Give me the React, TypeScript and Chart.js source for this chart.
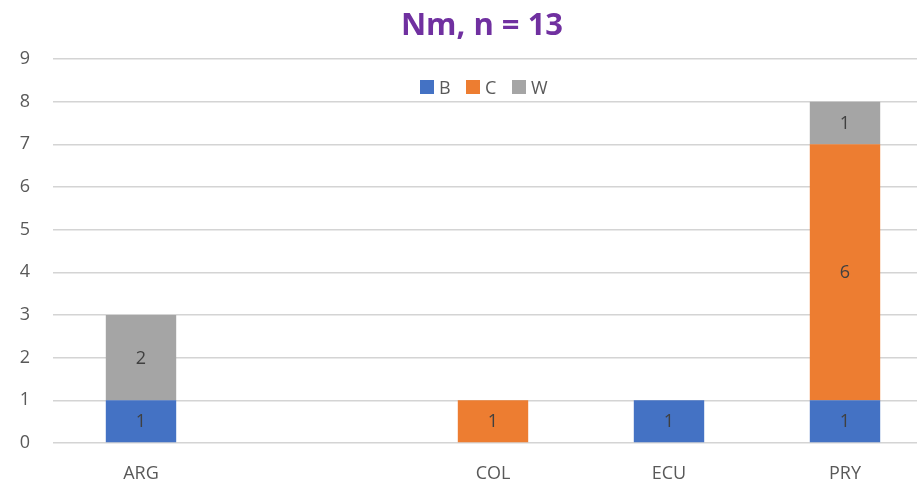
import React, { useEffect, useRef } from "react";
import { Chart, registerables } from "chart.js";

Chart.register(...registerables);

const categories = ["ARG", "", "COL", "ECU", "PRY"];
const seriesB = [1, null, null, 1, 1];
const seriesC = [null, null, 1, null, 6];
const seriesW = [2, null, null, null, 1];
const yTicks = [0, 1, 2, 3, 4, 5, 6, 7, 8, 9];
const titleText = "Nm, n = 13";

const FONT = "'Open Sans', 'Noto Sans', sans-serif";
const TEXT = "#595959";

const overlayPlugin = {
  id: "overlay",
  afterDatasetsDraw(chart: any) {
    const ctx = chart.ctx;
    ctx.save();
    // data labels
    ctx.font = `18px ${FONT}`;
    ctx.fillStyle = "#404040";
    ctx.textAlign = "center";
    ctx.textBaseline = "middle";
    chart.data.datasets.forEach((ds: any, di: number) => {
      const meta = chart.getDatasetMeta(di);
      meta.data.forEach((el: any, i: number) => {
        const v = ds.data[i];
        if (v == null || v === 0) return;
        const p = el.getProps(["x", "y", "base"], true);
        ctx.fillText(String(v), p.x, (p.y + p.base) / 2 + 1);
      });
    });
    // title
    ctx.font = `bold 31px ${FONT}`;
    ctx.fillStyle = "#7030A0";
    ctx.textAlign = "center";
    ctx.textBaseline = "alphabetic";
    ctx.fillText(titleText, 482, 35);
    // legend
    const xs = [420, 466, 512];
    ctx.font = `18px ${FONT}`;
    ctx.textAlign = "left";
    chart.data.datasets.forEach((ds: any, di: number) => {
      ctx.fillStyle = ds.backgroundColor;
      ctx.fillRect(xs[di], 80, 14, 14);
      ctx.fillStyle = TEXT;
      ctx.fillText(ds.label, xs[di] + 19, 94);
    });
    ctx.restore();
  },
};

export default function App() {
  const ref = useRef<HTMLCanvasElement | null>(null);
  useEffect(() => {
    if (!ref.current) return;
    const chart = new Chart(ref.current, {
      type: "bar",
      data: {
        labels: categories,
        datasets: [
          { label: "B", data: seriesB, backgroundColor: "#4472C4" },
          { label: "C", data: seriesC, backgroundColor: "#ED7D31" },
          { label: "W", data: seriesW, backgroundColor: "#A5A5A5" },
        ],
      },
      options: {
        responsive: false,
        animation: false,
        devicePixelRatio: 1,
        layout: { padding: { top: 59, left: 0, right: 27, bottom: 0 } },
        datasets: { bar: { barPercentage: 0.4, categoryPercentage: 1 } },
        plugins: {
          legend: { display: false },
          title: { display: false },
          tooltip: { enabled: false },
        },
        scales: {
          x: {
            stacked: true,
            grid: { display: false },
            border: { display: false },
            ticks: { color: TEXT, font: { family: FONT, size: 18 }, padding: 12, maxRotation: 0 },
            afterFit: (s: any) => {
              s.height = 42;
            },
          },
          y: {
            stacked: true,
            min: yTicks[0],
            max: yTicks[yTicks.length - 1],
            ticks: { stepSize: 1, color: TEXT, font: { family: FONT, size: 18 }, padding: 23 },
            grid: { color: "#D4D4D4", lineWidth: 1.5, drawTicks: false },
            border: { display: false },
            afterFit: (s: any) => {
              s.width = 53;
            },
          },
        },
      },
      plugins: [overlayPlugin],
    } as any);
    return () => chart.destroy();
  }, []);
  return (
    <div
      style={{
        position: "fixed",
        left: 0,
        top: 0,
        width: 917,
        height: 485,
        overflow: "hidden",
        background: "#fff",
      }}
    >
      <canvas ref={ref} width={960} height={485} style={{ display: "block" }} />
    </div>
  );
}
